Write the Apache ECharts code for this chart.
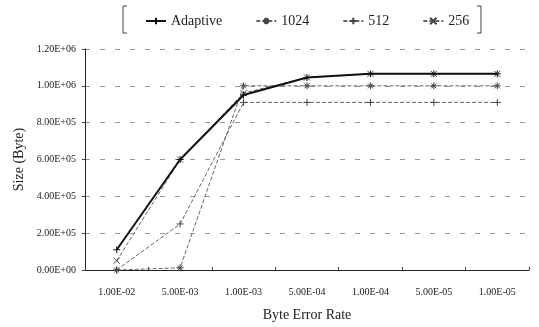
<!DOCTYPE html>
<html>
<head>
<meta charset="utf-8">
<script src="https://cdn.jsdelivr.net/npm/echarts@6/dist/echarts.min.js"></script>
<style>html,body{margin:0;padding:0;background:#fff}#c{width:539px;height:327px}</style>
</head>
<body>
<div id="c"></div>
<script>
const categories = ['1.00E-02','5.00E-03','1.00E-03','5.00E-04','1.00E-04','5.00E-05','1.00E-05'];
const seriesNames = ['Adaptive','1024','512','256'];
const adaptive = [110000, 600000, 950000, 1045000, 1065000, 1065000, 1065000];
const s1024 = [0, 12000, 1000000, 1000000, 1000000, 1000000, 1000000];
const s512 = [0, 250000, 910000, 910000, 910000, 910000, 910000];
const s256 = [50000, 600000, 960000, 1045000, 1065000, 1065000, 1065000];
const yTicks = [0, 200000, 400000, 600000, 800000, 1000000, 1200000];

const serif = 'Liberation Serif';
function sci(v){
  if (v === 0) return '0.00E+00';
  const e = Math.floor(Math.log10(Math.abs(v)));
  const m = v / Math.pow(10, e);
  const es = (e < 0 ? '-' : '+') + String(Math.abs(e)).padStart(2, '0');
  return m.toFixed(2) + 'E' + es;
}
const plus = 'path://M0,5L10,5M5,0L5,10';
const star = 'path://M5,0L5,10M0,5L10,5M1.5,1.5L8.5,8.5M8.5,1.5L1.5,8.5';
const cross = 'path://M0,0L10,10M10,0L0,10';

const chart = echarts.init(document.getElementById('c'));
chart.setOption({
  animation: false,
  backgroundColor: '#fff',
  textStyle: { fontFamily: serif },
  legend: {
    left: 140, top: 9,
    itemWidth: 20, itemHeight: 8, itemGap: 33,
    textStyle: { fontFamily: serif, fontSize: 14, color: '#222' },
    data: seriesNames
  },
  graphic: [
    { type: 'polyline', shape: { points: [[127,6],[123,6],[123,33],[127,33]] }, style: { stroke: '#444', lineWidth: 1, fill: null } },
    { type: 'polyline', shape: { points: [[477,6],[481,6],[481,33],[477,33]] }, style: { stroke: '#444', lineWidth: 1, fill: null } }
  ],
  grid: { left: 85, right: 10, top: 49, bottom: 53 },
  xAxis: {
    type: 'category',
    data: categories,
    boundaryGap: true,
    name: 'Byte Error Rate',
    nameLocation: 'middle',
    nameGap: 38,
    nameTextStyle: { fontFamily: serif, fontSize: 14, color: '#222' },
    axisLine: { lineStyle: { color: '#222', width: 1 } },
    axisTick: { show: true, length: 3, inside: true, lineStyle: { color: '#444' } },
    axisLabel: { fontFamily: serif, fontSize: 10, color: '#222', margin: 17 }
  },
  yAxis: {
    type: 'value',
    min: yTicks[0], max: yTicks[yTicks.length - 1], interval: 200000,
    name: 'Size (Byte)',
    nameLocation: 'middle',
    nameGap: 59,
    nameRotate: 90,
    nameTextStyle: { fontFamily: serif, fontSize: 14, color: '#222' },
    axisLine: { show: true, lineStyle: { color: '#222', width: 1 } },
    axisTick: { show: true, length: 3, lineStyle: { color: '#444' } },
    axisLabel: { fontFamily: serif, fontSize: 10, color: '#222', margin: 9, formatter: sci },
    splitLine: { show: true, lineStyle: { color: '#999', width: 1, type: [5, 10] } }
  },
  series: [
    { name: 'Adaptive', type: 'line', data: adaptive, symbol: plus, symbolSize: 7,
      lineStyle: { color: '#111', width: 2 }, itemStyle: { color: '#111', borderColor: '#111', borderWidth: 1 }, z: 5 },
    { name: '1024', type: 'line', data: s1024, symbol: star, symbolSize: 7,
      lineStyle: { color: '#666', width: 1, type: [4, 2] }, itemStyle: { color: '#444', borderColor: '#444', borderWidth: 1 } },
    { name: '512', type: 'line', data: s512, symbol: plus, symbolSize: 7,
      lineStyle: { color: '#666', width: 1, type: [4, 2] }, itemStyle: { color: '#444', borderColor: '#444', borderWidth: 1 } },
    { name: '256', type: 'line', data: s256, symbol: cross, symbolSize: 6,
      lineStyle: { color: '#666', width: 1, type: [4, 2] }, itemStyle: { color: '#444', borderColor: '#444', borderWidth: 1 } }
  ]
});
</script>
</body>
</html>
